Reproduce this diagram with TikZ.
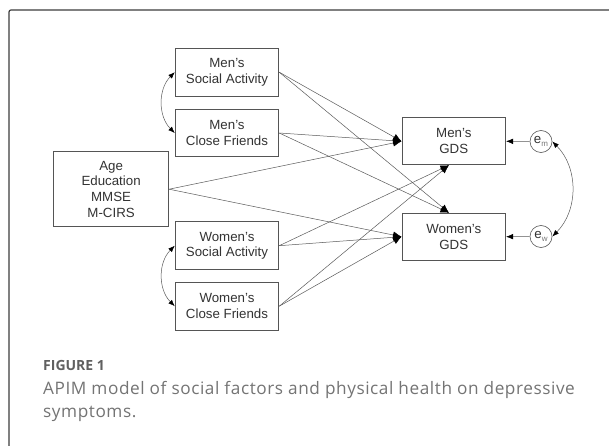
\documentclass[tikz,border=0pt]{standalone}
\usepackage{fontspec}
\setmainfont{Liberation Sans}
\newfontfamily\capfont[LetterSpace=3.3]{Open Sans}
\newfontfamily\capheadfont{Open Sans}
\usetikzlibrary{arrows.meta}
\definecolor{boxline}{HTML}{555555}
\definecolor{linecol}{HTML}{5A5A5A}
\definecolor{txt}{HTML}{333333}
\definecolor{subtxt}{HTML}{777777}
\definecolor{framecol}{HTML}{3C3C3C}
\definecolor{caphead}{HTML}{606060}
\definecolor{captxt}{HTML}{747474}
\newcommand{\errsub}[1]{\raisebox{-3pt}{\fontsize{8}{8}\selectfont\color{subtxt}#1}}
\begin{document}
\begin{tikzpicture}[x=1pt,y=-1pt,
  varbox/.style={draw=boxline,line width=0.8pt,minimum width=103.7pt,minimum height=47.7pt,inner sep=0pt,align=center,text=txt,font=\fontsize{13.3}{15.7}\selectfont},
  gdsbox/.style={varbox,minimum height=47pt},
  errnode/.style={circle,draw=boxline,line width=0.6pt,minimum size=22pt,inner sep=0pt,text=txt,font=\fontsize{13.3}{15}\selectfont},
  conn/.style={draw=linecol,line width=0.5pt,-{Latex[length=8.5pt,width=7pt,color=black]}},
  cov/.style={draw=linecol,line width=0.5pt,{Latex[length=6.5pt,width=5pt,color=black]}-{Latex[length=6.5pt,width=5pt,color=black]}},
  capnode/.style={anchor=base west,inner sep=0pt,text=captxt,font=\capfont\fontsize{17.2}{23}\selectfont}
]
\useasboundingbox (0,0) rectangle (609,446);
\fill[white] (0,0) rectangle (609,446);
% frame
\draw[framecol,line width=1.2pt,rounded corners=2pt] (9,446) -- (9,10) -- (609,10);

% nodes
\node[varbox] (msa) at (227,72.2) {Men's\\Social Activity};
\node[varbox] (mcf) at (227,133) {Men's\\Close Friends};
\node[varbox] (wsa) at (227,245.7) {Women's\\Social Activity};
\node[varbox] (wcf) at (227,306.2) {Women's\\Close Friends};
\node[varbox,minimum width=115.2pt,minimum height=75pt] (age) at (111.1,189.2) {Age\\Education\\MMSE\\M-CIRS};
\node[gdsbox] (mgds) at (453.8,141.3) {Men's\\GDS};
\node[gdsbox] (wgds) at (453.8,236.7) {Women's\\GDS};
\node[errnode] (em) at (541,141.5) {e\errsub{m}};
\node[errnode] (ew) at (541,236.5) {e\errsub{w}};
\coordinate (mbot) at ([xshift=-4.8pt]mgds.south);
\coordinate (wtop) at ([xshift=-4.8pt]wgds.north);

% paths to Men's GDS
\draw[conn] (msa.east) -- (mgds.west);
\draw[conn] (mcf.east) -- (mgds.west);
\draw[conn] (age.east) -- (mgds.west);
\draw[conn] (wsa.east) -- (mbot);
\draw[conn] (wcf.east) -- (mbot);
% paths to Women's GDS
\draw[conn] (msa.east) -- (wtop);
\draw[conn] (mcf.east) -- (wtop);
\draw[conn] (age.east) -- (wgds.west);
\draw[conn] (wsa.east) -- (wgds.west);
\draw[conn] (wcf.east) -- (wgds.west);
% errors
\draw[conn,-{Latex[length=7pt,width=5.5pt,color=black]}] (em.west) -- (mgds.east);
\draw[conn,-{Latex[length=7pt,width=5.5pt,color=black]}] (ew.west) -- (wgds.east);
% covariances
\draw[cov] (msa.west) to[bend right=45] (mcf.west);
\draw[cov] (wsa.west) to[bend right=45] (wcf.west);
\draw[cov] (em.east) to[bend left=45] (ew.east);

% caption
\node[anchor=base west,inner sep=0pt,text=caphead,font=\capheadfont\bfseries\fontsize{14}{16}\selectfont] (fig) at (43,370.7) {FIGURE 1};
\node[capnode] (cap1) at (43,394.5) {APIM model of social factors and physical health on depressive};
\node[capnode] (cap2) at (43,417.5) {symptoms.};
\end{tikzpicture}
\end{document}
